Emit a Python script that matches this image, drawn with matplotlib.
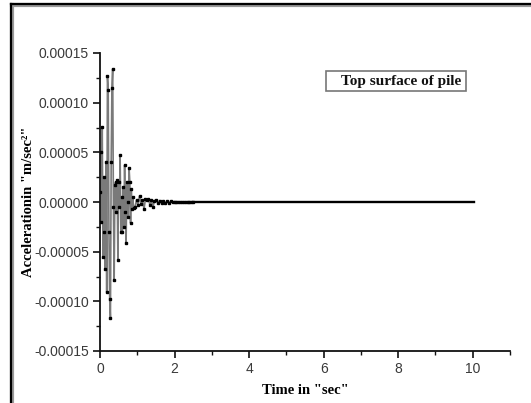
import matplotlib
matplotlib.use("Agg")
import matplotlib.pyplot as plt
from matplotlib.lines import Line2D
from matplotlib.patches import Rectangle
from matplotlib.ticker import MultipleLocator, FormatStrFormatter

# Time (s) and acceleration (m/s^2)
time_s = [0.00, 0.02, 0.04, 0.06, 0.08, 0.10, 0.12, 0.14, 0.16, 0.18,
          0.20, 0.22, 0.24, 0.26, 0.28, 0.30, 0.32, 0.34, 0.36, 0.38,
          0.40, 0.42, 0.44, 0.46, 0.48, 0.50, 0.52, 0.54, 0.56, 0.58,
          0.60, 0.62, 0.64, 0.66, 0.68, 0.70, 0.72, 0.74, 0.76, 0.78,
          0.80, 0.82, 0.84, 0.86, 0.88, 0.90, 0.94, 0.98, 1.02, 1.06,
          1.10, 1.14, 1.18, 1.22, 1.26, 1.30, 1.34, 1.38, 1.42, 1.46,
          1.50, 1.55, 1.60, 1.65, 1.70, 1.75, 1.80, 1.85, 1.90, 1.95,
          2.00, 2.05, 2.10, 2.15, 2.20, 2.25, 2.30, 2.35, 2.40, 2.45, 2.50]
accel_e5 = [1.0, 5.0, -2.0, 7.5, -5.5, 2.5, -3.0, -6.7, 4.0, -9.1,
            12.7, 11.3, -3.0, -9.8, -11.7, 4.0, 11.5, 13.4, -0.5, -7.9,
            1.7, 2.0, -1.0, 2.2, -5.8, 2.0, -0.5, 4.7, -3.0, 0.5,
            -3.0, 1.5, -2.5, 3.7, -1.0, -4.1, 2.0, 0.0, -1.5, 3.4,
            2.0, -2.1, 1.3, -0.7, 0.5, -0.6, -0.5, 0.2, -0.3, 0.6,
            -0.2, 0.2, -0.7, 0.3, 0.2, 0.3, -0.3, 0.2, -0.5, 0.1,
            0.2, -0.1, 0.15, -0.1, 0.1, -0.1, 0.08, -0.08, 0.06, -0.05,
            0.05, -0.04, 0.03, -0.03, 0.02, -0.02, 0.01, -0.01, 0.01, 0.0, 0.0]
accel = [v * 1e-5 for v in accel_e5]

# flat tail of the record
tail_time = [2.50, 10.03]
tail_accel = [0.0, 0.0]

x_ticks = [0, 2, 4, 6, 8, 10]
y_ticks = [-0.00015, -0.00010, -0.00005, 0.0, 0.00005, 0.00010, 0.00015]
legend_text = "Top surface of pile"
x_label = 'Time in "sec"'
y_label = 'Accelerationin "m/sec\u00b2"'

W, H = 531, 403
fig = plt.figure(figsize=(W / 100, H / 100), dpi=100)
fig.patch.set_facecolor("white")

ax = fig.add_axes([100 / W, 1 - 351 / H, (510 - 100) / W, (351 - 53) / H])
ax.plot(time_s, accel, color="#7a7a7a", lw=1.2, zorder=2)
ax.plot(time_s, accel, ls="none", marker="s", ms=1.5, color="black", zorder=3)
ax.plot(tail_time, tail_accel, color="black", lw=1.7, zorder=3)

ax.set_xlim(0, 11)
ax.set_ylim(-0.00015, 0.00015)
ax.set_xticks(x_ticks)
ax.set_yticks(y_ticks)
ax.xaxis.set_minor_locator(MultipleLocator(1))
ax.yaxis.set_minor_locator(MultipleLocator(0.000025))
ax.yaxis.set_major_formatter(FormatStrFormatter("%.5f"))

for s in ["top", "right"]:
    ax.spines[s].set_visible(False)
for s in ["left", "bottom"]:
    ax.spines[s].set_linewidth(1.3)
    ax.spines[s].set_color("#111111")

ax.tick_params(which="major", direction="out", length=5, width=1.2,
               labelsize=10, labelcolor="#3a3a3a", color="#111111", pad=3)
ax.tick_params(which="minor", direction="out", length=3, width=1.0, color="#111111")
for lab in ax.get_xticklabels() + ax.get_yticklabels():
    lab.set_family("Liberation Sans")

ax.set_xlabel(x_label, family="Liberation Serif", fontweight="bold", fontsize=10.5,
              labelpad=6)
ax.set_ylabel(y_label, family="Liberation Serif", fontweight="bold", fontsize=10.5)
ax.yaxis.set_label_coords((35 - 100) / (510 - 100), 0.5)

# legend-like box
fig.patches.append(Rectangle((326 / W, 1 - 91 / H), (466 - 326) / W, (91 - 71) / H,
                             transform=fig.transFigure, fill=False,
                             edgecolor="#777777", lw=1.2))
fig.text(341 / W, 1 - 81 / H, legend_text, family="Liberation Serif",
         fontweight="bold", fontsize=11, va="center", ha="left", color="#111111")

# outer frame (top and left edges)
fig.lines.append(Line2D([12 / W, 1.0], [1 - 5 / H, 1 - 5 / H], transform=fig.transFigure,
                        color="#999999", lw=3.0))
fig.lines.append(Line2D([12 / W, 12 / W], [0, 1 - 5 / H], transform=fig.transFigure,
                        color="#999999", lw=3.0))
fig.lines.append(Line2D([11 / W, 1.0], [1 - 4 / H, 1 - 4 / H], transform=fig.transFigure,
                        color="black", lw=1.6))
fig.lines.append(Line2D([11 / W, 11 / W], [0, 1 - 4 / H], transform=fig.transFigure,
                        color="black", lw=1.6))

fig.savefig("out.png", dpi=100)
